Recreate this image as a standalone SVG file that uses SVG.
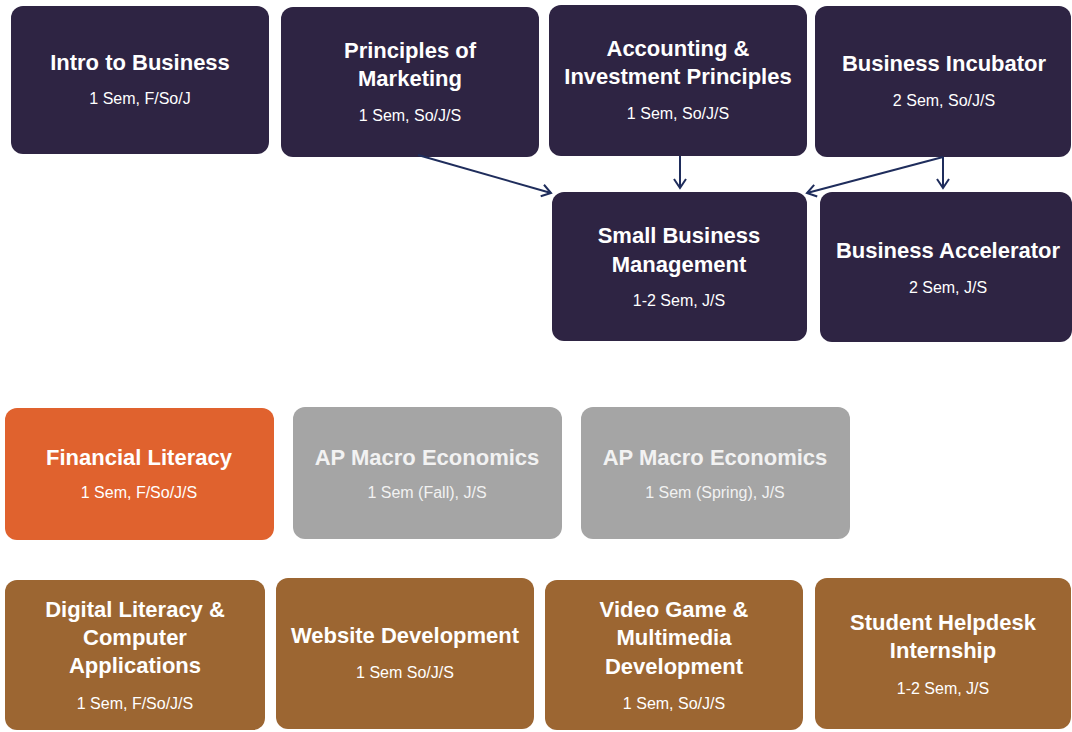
<svg xmlns="http://www.w3.org/2000/svg" width="1072" height="732" viewBox="0 0 1072 732">
<defs>
<style>
.n{fill:#2e2443}
.o{fill:#e0622e}
.g{fill:#a5a5a5}
.b{fill:#9c6632}
.t{font-family:"Liberation Sans",Arial,sans-serif;font-weight:bold;font-size:22px;fill:#ffffff;text-anchor:middle}
.s{font-family:"Liberation Sans",Arial,sans-serif;font-size:16px;fill:#ffffff;text-anchor:middle}
.gt{fill:#f2f2f2}
.c{stroke:#1f2d5c;stroke-width:2;fill:none}
</style>
<marker id="ah" markerWidth="14" markerHeight="14" refX="11" refY="7" orient="auto" markerUnits="userSpaceOnUse">
<path d="M2,1 L11,7 L2,13" fill="none" stroke="#1f2d5c" stroke-width="2"/>
</marker>
</defs>
<rect width="1072" height="732" fill="#ffffff"/>
<g id="intro"><rect class="n" x="11" y="6" width="258" height="148" rx="12"/><text class="t" x="140" y="70">Intro to Business</text><text class="s" x="140" y="104">1 Sem, F/So/J</text></g>
<g id="marketing"><rect class="n" x="281" y="7" width="258" height="150" rx="12"/><text class="t" x="410" y="58">Principles of</text><text class="t" x="410" y="86">Marketing</text><text class="s" x="410" y="121">1 Sem, So/J/S</text></g>
<g id="accounting"><rect class="n" x="549" y="5" width="258" height="151" rx="12"/><text class="t" x="678" y="56">Accounting &amp;</text><text class="t" x="678" y="84">Investment Principles</text><text class="s" x="678" y="119">1 Sem, So/J/S</text></g>
<g id="incubator"><rect class="n" x="815" y="6" width="256" height="151" rx="12"/><text class="t" x="944" y="71">Business Incubator</text><text class="s" x="944" y="106">2 Sem, So/J/S</text></g>
<g id="sbm"><rect class="n" x="552" y="192" width="255" height="149" rx="12"/><text class="t" x="679" y="243">Small Business</text><text class="t" x="679" y="272">Management</text><text class="s" x="679" y="306">1-2 Sem, J/S</text></g>
<g id="accelerator"><rect class="n" x="820" y="192" width="252" height="150" rx="12"/><text class="t" x="948" y="258">Business Accelerator</text><text class="s" x="948" y="293">2 Sem, J/S</text></g>
<g id="financial"><rect class="o" x="5" y="408" width="269" height="132" rx="12"/><text class="t" x="139" y="465">Financial Literacy</text><text class="s" x="139" y="498">1 Sem, F/So/J/S</text></g>
<g id="apfall"><rect class="g" x="293" y="407" width="269" height="132" rx="12"/><text class="t gt" x="427" y="465">AP Macro Economics</text><text class="s gt" x="427" y="498">1 Sem (Fall), J/S</text></g>
<g id="apspring"><rect class="g" x="581" y="407" width="269" height="132" rx="12"/><text class="t gt" x="715" y="465">AP Macro Economics</text><text class="s gt" x="715" y="498">1 Sem (Spring), J/S</text></g>
<g id="digital"><rect class="b" x="5" y="580" width="260" height="150" rx="12"/><text class="t" x="135" y="617">Digital Literacy &amp;</text><text class="t" x="135" y="645">Computer</text><text class="t" x="135" y="673">Applications</text><text class="s" x="135" y="709">1 Sem, F/So/J/S</text></g>
<g id="website"><rect class="b" x="276" y="578" width="258" height="151" rx="12"/><text class="t" x="405" y="643">Website Development</text><text class="s" x="405" y="678">1 Sem So/J/S</text></g>
<g id="videogame"><rect class="b" x="545" y="580" width="258" height="150" rx="12"/><text class="t" x="674" y="617">Video Game &amp;</text><text class="t" x="674" y="645">Multimedia</text><text class="t" x="674" y="674">Development</text><text class="s" x="674" y="709">1 Sem, So/J/S</text></g>
<g id="helpdesk"><rect class="b" x="815" y="578" width="256" height="151" rx="12"/><text class="t" x="943" y="630">Student Helpdesk</text><text class="t" x="943" y="658">Internship</text><text class="s" x="943" y="694">1-2 Sem, J/S</text></g>
<g id="connectors">
<line class="c" x1="418" y1="155" x2="551" y2="193" marker-end="url(#ah)"/>
<line class="c" x1="680" y1="156" x2="680" y2="188" marker-end="url(#ah)"/>
<line class="c" x1="943" y1="157" x2="807" y2="193" marker-end="url(#ah)"/>
<line class="c" x1="943" y1="157" x2="943" y2="188" marker-end="url(#ah)"/>
</g>
</svg>
